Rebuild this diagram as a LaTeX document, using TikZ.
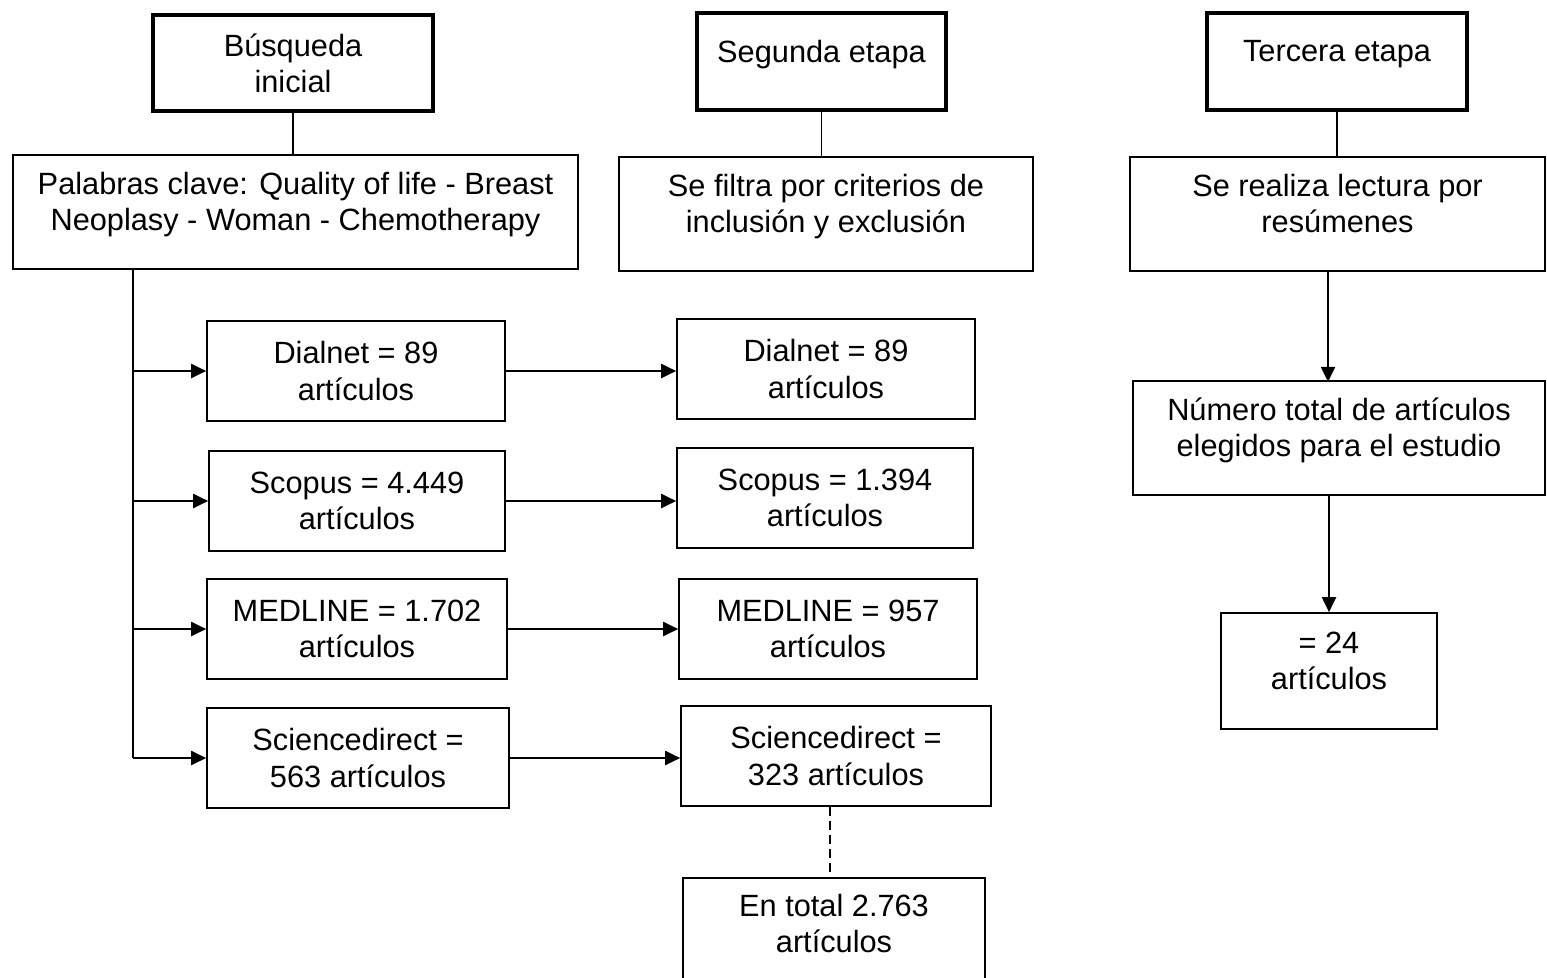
\documentclass[tikz,border=0pt]{standalone}
\usepackage{fontspec}
\setmainfont{Liberation Sans}
\usetikzlibrary{arrows.meta}

\tikzset{
  box/.style={draw, line width=1pt, align=center, inner sep=0pt,
    font=\fontsize{17.5}{20.5}\selectfont},
  stagebox/.style={box, line width=1.8pt},
  lifted/.style={text depth=0.42cm},
  arr/.style={-{Triangle[length=8.5pt,width=8pt]}, line width=1pt},
  link/.style={line width=1pt}
}

\begin{document}
\begin{tikzpicture}[x=0.02cm, y=-0.02cm]
  \useasboundingbox (0,0) rectangle (1547,977);
  % etapas
  \node[stagebox] (busq) at (293,63) [minimum width=5.6cm, minimum height=1.92cm] {Búsqueda\\inicial};
  \node[stagebox, lifted] (seg) at (821.5,61.5) [minimum width=4.98cm, minimum height=1.94cm] {Segunda etapa};
  \node[stagebox, lifted] (terc) at (1337,61.5) [minimum width=5.2cm, minimum height=1.94cm] {Tercera etapa};
  \node[box, lifted] (clave) at (295.5,212) [minimum width=11.3cm, minimum height=2.28cm] {Palabras clave: Quality of life - Breast\\Neoplasy - Woman - Chemotherapy};
  \node[box, lifted] (filtro) at (826,214) [minimum width=8.28cm, minimum height=2.28cm] {Se filtra por criterios de\\inclusión y exclusión};
  \node[box, lifted] (lectura) at (1337.5,214) [minimum width=8.3cm, minimum height=2.28cm] {Se realiza lectura por\\resúmenes};
  % bases de datos, primera busqueda
  \node[box] (dial1) at (356,371) [minimum width=5.96cm, minimum height=2cm] {Dialnet = 89\\artículos};
  \node[box] (scop1) at (357,501) [minimum width=5.92cm, minimum height=2cm] {Scopus = 4.449\\artículos};
  \node[box] (med1) at (357,629) [minimum width=6cm, minimum height=2cm] {MEDLINE = 1.702\\artículos};
  \node[box] (sci1) at (358,758) [minimum width=6.04cm, minimum height=2cm] {Sciencedirect =\\563 artículos};
  % bases de datos, filtradas
  \node[box] (dial2) at (826,369) [minimum width=5.96cm, minimum height=2cm] {Dialnet = 89\\artículos};
  \node[box] (scop2) at (825,498) [minimum width=5.92cm, minimum height=2cm] {Scopus = 1.394\\artículos};
  \node[box] (med2) at (828,629) [minimum width=5.96cm, minimum height=2cm] {MEDLINE = 957\\artículos};
  \node[box] (sci2) at (836,756) [minimum width=6.2cm, minimum height=2cm] {Sciencedirect =\\323 artículos};
  \node[box, text depth=0.25cm] (total) at (834,930) [minimum width=6.04cm, minimum height=2.08cm] {En total 2.763\\artículos};
  % tercera etapa
  \node[box, lifted] (numero) at (1339,438) [minimum width=8.24cm, minimum height=2.28cm] {Número total de artículos\\elegidos para el estudio};
  \node[box, lifted] (final) at (1329,671) [minimum width=4.32cm, minimum height=2.32cm] {= 24\\artículos};

  \coordinate (spine) at (133,269);
  \draw[link] (busq) -- (busq.south |- clave.north);
  \draw[link] (seg) -- (seg.south |- filtro.north);
  \draw[link] (terc) -- (terc.south |- lectura.north);
  \draw[link] (spine) -- (spine |- sci1.west);
  \foreach \db in {dial1, scop1, med1, sci1}
    \draw[arr] (spine |- \db.west) -- (\db.west);
  \draw[arr] (dial1.east) -- (dial1.east -| dial2.west);
  \draw[arr] (scop1.east) -- (scop1.east -| scop2.west);
  \draw[arr] (med1.east) -- (med1.east -| med2.west);
  \draw[arr] (sci1.east) -- (sci1.east -| sci2.west);
  \draw[link, dash pattern=on 5pt off 3pt] ([xshift=-0.12cm]sci2.south) -- ([xshift=-0.12cm]sci2.south |- total.north);
  \draw[arr] (lectura.south -| numero.north) ++(-11,0) -- ++(0,110);
  \draw[arr] (numero.south -| final.north) -- (final.north);
\end{tikzpicture}
\end{document}
